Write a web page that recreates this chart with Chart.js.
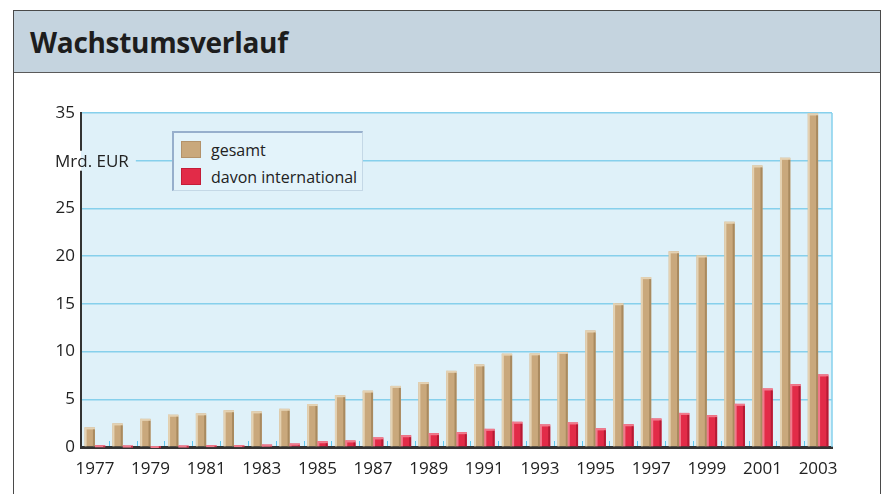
<!DOCTYPE html>
<html>
<head>
<meta charset="utf-8">
<script src="https://cdn.jsdelivr.net/npm/chart.js@4"></script>
<style>
  body { margin: 0; background: #fff; font-family: "Open Sans", sans-serif; }
  .box { position: absolute; left: 13px; top: 10px; width: 866px; height: 500px; border: 1px solid #4a4a4a; }
  .head { height: 61px; background: #c5d4df; border-bottom: 1px solid #5a5a5a; }
  .head h1 { margin: 0; padding-left: 16px; line-height: 63px; font-size: 28px; font-weight: 700; color: #1d1d1d; letter-spacing: -0.3px; }
  #chart { position: absolute; left: 14px; top: 73px; }
  .legend { position: absolute; left: 172px; top: 131px; width: 188px; height: 57px; background: #e3f3fa;
    border-top: 2px solid #97afcc; border-left: 2px solid #97afcc; border-right: 1px solid #c4d8e6; border-bottom: 1px solid #c4d8e6; }
  .legend div { position: absolute; left: 37px; font-size: 16px; color: #222; line-height: 18px; }
  .legend span { position: absolute; left: -30px; top: 0; width: 20px; height: 17px; }
</style>
</head>
<body>
<div class="box"><div class="head"><h1>Wachstumsverlauf</h1></div></div>
<canvas id="chart" width="866" height="421"></canvas>
<div class="legend">
  <div style="top:8px"><span style="background:#c9a87c;border:1px solid #b3926a;box-sizing:border-box"></span>gesamt</div>
  <div style="top:35px"><span style="background:#e22b48;border:1px solid #c41d38;box-sizing:border-box"></span>davon international</div>
</div>
<script>
var years = ['1977','1978','1979','1980','1981','1982','1983','1984','1985','1986','1987','1988','1989','1990',
  '1991','1992','1993','1994','1995','1996','1997','1998','1999','2000','2001','2002','2003'];
var gesamt = [2.05, 2.47, 2.95, 3.38, 3.52, 3.84, 3.73, 4.0, 4.5, 5.42, 5.9, 6.4, 6.8, 7.98,
  8.65, 9.78, 9.81, 9.96, 12.2, 15.06, 17.8, 20.5, 20.06, 23.6, 29.5, 30.3, 34.95];
var international = [0.18, 0.15, 0.1, 0.15, 0.2, 0.2, 0.25, 0.36, 0.6, 0.68, 1.0, 1.23, 1.44, 1.55,
  1.9, 2.64, 2.36, 2.57, 1.95, 2.38, 2.98, 3.57, 3.33, 4.52, 6.13, 6.59, 7.6];
var yTicks = [0, 5, 10, 15, 20, 25, 30, 35];
var unitLabel = 'Mrd. EUR';

var plotBg = '#dff1f9';
var gridBlue = '#86d0ec';

// light / dark edges on every bar for the raised look
var shades = [
  { light: '#e4d2b3', dark: '#a98a5f' },
  { light: '#f07a8c', dark: '#b51a34' }
];

function unitLabelX(chart) { return chart.chartArea.left - 26; }

var chartDeco = {
  id: 'chartDeco',
  beforeDraw: function(chart) {
    var a = chart.chartArea, c = chart.ctx;
    c.save();
    c.fillStyle = plotBg;
    c.fillRect(a.left, a.top, a.right - a.left, a.bottom - a.top);
    c.restore();
  },
  beforeDatasetsDraw: function(chart) {
    // gridline at 30 starts after the unit label
    var a = chart.chartArea, c = chart.ctx;
    var y30 = chart.scales.y.getPixelForValue(30);
    c.save();
    c.font = '17px "Open Sans"';
    var w = c.measureText(unitLabel).width;
    c.strokeStyle = gridBlue;
    c.lineWidth = 1.5;
    c.beginPath(); c.moveTo(unitLabelX(chart) + w + 7, y30); c.lineTo(a.right, y30); c.stroke();
    c.restore();
  },
  afterDatasetsDraw: function(chart) {
    var c = chart.ctx;
    c.save();
    chart.data.datasets.forEach(function(ds, i) {
      chart.getDatasetMeta(i).data.forEach(function(bar) {
        var l = bar.x - bar.width / 2, r = bar.x + bar.width / 2;
        c.fillStyle = shades[i].light;
        c.fillRect(l, bar.y, 2, bar.base - bar.y);
        c.fillRect(l, bar.y, bar.width, 2);
        c.fillStyle = shades[i].dark;
        c.fillRect(r - 2, bar.y + 2, 2, bar.base - bar.y - 2);
      });
    });
    c.restore();
  },
  afterDraw: function(chart) {
    var a = chart.chartArea, c = chart.ctx;
    var xs = chart.scales.x, ys = chart.scales.y;
    c.save();
    // little blue marks between the years
    c.strokeStyle = '#5fc6ee';
    c.lineWidth = 1;
    for (var i = 1; i < years.length; i++) {
      var bx = Math.round((xs.getPixelForValue(i - 1) + xs.getPixelForValue(i)) / 2) + 0.5;
      c.beginPath(); c.moveTo(bx, a.bottom - 6); c.lineTo(bx, a.bottom - 1); c.stroke();
    }
    // right frame
    c.strokeStyle = gridBlue;
    c.lineWidth = 1.5;
    c.beginPath(); c.moveTo(a.right, a.top); c.lineTo(a.right, a.bottom); c.stroke();
    // unit label in place of 30
    var y30 = ys.getPixelForValue(30);
    c.fillStyle = '#fff';
    c.fillRect(a.left - 4, y30 - 10, 4, 20);
    c.fillStyle = plotBg;
    c.fillRect(a.left, y30 - 10, 3, 20);
    c.font = '17px "Open Sans"';
    c.fillStyle = '#222';
    c.textBaseline = 'middle';
    c.fillText(unitLabel, unitLabelX(chart), y30 + 1);
    c.restore();
  }
};

new Chart(document.getElementById('chart'), {
  type: 'bar',
  data: {
    labels: years,
    datasets: [
      { label: 'gesamt', data: gesamt, backgroundColor: '#c9a87c', borderWidth: 0 },
      { label: 'davon international', data: international, backgroundColor: '#e22b48', borderWidth: 0 }
    ]
  },
  options: {
    responsive: false,
    animation: false,
    layout: { padding: { top: 40, right: 48, left: 0, bottom: 0 } },
    categoryPercentage: 0.74,
    barPercentage: 1,
    plugins: { legend: { display: false }, tooltip: { enabled: false } },
    scales: {
      x: {
        grid: { display: false },
        border: { display: true, color: '#333', width: 3 },
        ticks: {
          autoSkip: false, maxRotation: 0, padding: 4,
          color: '#222', font: { family: 'Open Sans', size: 17 },
          callback: function(v, i) { return i % 2 === 0 ? years[i] : ''; }
        },
        afterFit: function(s) { s.height = 47; }
      },
      y: {
        min: 0, max: 35,
        afterBuildTicks: function(s) { s.ticks = yTicks.map(function(v) { return { value: v }; }); },
        grid: {
          drawTicks: false, lineWidth: 1.5,
          color: function(ctx) { return (ctx.tick && (ctx.tick.value === 0 || ctx.tick.value === 30)) ? 'rgba(0,0,0,0)' : gridBlue; }
        },
        border: { display: true, color: '#333', width: 2 },
        ticks: {
          padding: 6, color: '#222', font: { family: 'Open Sans', size: 17 },
          callback: function(v) { return v === 30 ? '' : v; }
        },
        afterFit: function(s) { s.width = 67; }
      }
    }
  },
  plugins: [chartDeco]
});
</script>
</body>
</html>
